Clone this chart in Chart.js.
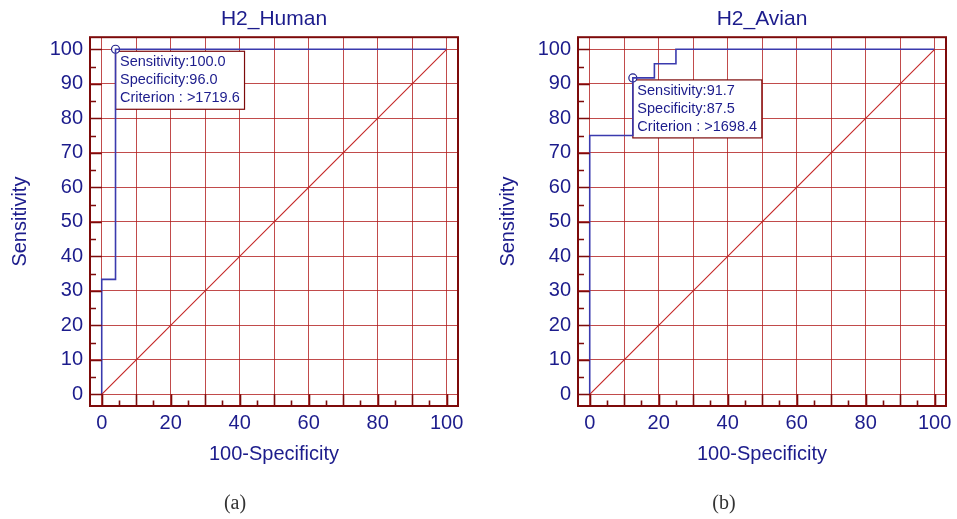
<!DOCTYPE html>
<html>
<head>
<meta charset="utf-8">
<script src="https://cdn.jsdelivr.net/npm/chart.js@4"></script>
<style>
  html, body { margin:0; padding:0; background:#fff; }
  body { width:957px; height:519px; position:relative; overflow:hidden; }
  .panel { position:absolute; top:0; width:469px; height:519px; }
  .cap { position:absolute; top:491px; width:60px; text-align:center; font-family:"Liberation Serif","DejaVu Serif",serif; font-size:20px; line-height:22px; color:#333; }
</style>
</head>
<body>
<div class="panel" style="left:0px"><canvas id="c1" width="469" height="519"></canvas></div>
<div class="panel" style="left:488px"><canvas id="c2" width="469" height="519"></canvas></div>
<div class="cap" style="left:205px">(a)</div>
<div class="cap" style="left:694px">(b)</div>
<script>
// ---- data ----
const titles = ['H2_Human', 'H2_Avian'];
const gridValues = [0, 10, 20, 30, 40, 50, 60, 70, 80, 90, 100];
const minorTickValues = [5, 15, 25, 35, 45, 55, 65, 75, 85, 95];
const xTickLabels = [0, 20, 40, 60, 80, 100];
const yTickLabels = [0, 10, 20, 30, 40, 50, 60, 70, 80, 90, 100];
const diagX = [0, 100];
const diagY = [0, 100];
const humanFpr = [0, 0, 4, 4, 100];
const humanSens = [0, 33.3, 33.3, 100, 100];
const avianFpr = [0, 0, 12.5, 12.5, 18.75, 18.75, 25, 25, 100];
const avianSens = [0, 75, 75, 91.7, 91.7, 95.8, 95.8, 100, 100];
const humanCutX = [4];
const humanCutY = [100];
const avianCutX = [12.5];
const avianCutY = [91.7];
const humanInfo = ['Sensitivity:100.0', 'Specificity:96.0', 'Criterion : >1719.6'];
const avianInfo = ['Sensitivity:91.7', 'Specificity:87.5', 'Criterion : >1698.4'];

// ---- style ----
const TEXT = '#1c1c8c';
const CURVE = '#3a3aae';
const FRAME = '#7d0a0a';
const GRID = 'rgba(178,30,30,0.8)';
const DIAG = '#c42626';
const FONT = '"Liberation Sans", Arial, sans-serif';

function pts(xs, ys) { return xs.map((x, i) => ({x: x, y: ys[i]})); }

function decorPlugin(info) {
  return {
    id: 'rocDecor',
    beforeDatasetsDraw(chart) {
      const ctx = chart.ctx;
      const p = chart.getDatasetMeta(2).data[0];
      const x0 = p.x, y0 = p.y + 2, w = 129, h = 58;
      ctx.save();
      ctx.fillStyle = '#fff';
      ctx.fillRect(x0, y0, w, h);
      ctx.strokeStyle = FRAME;
      ctx.lineWidth = 1.2;
      ctx.strokeRect(x0, y0, w, h);
      ctx.fillStyle = TEXT;
      ctx.font = '14.5px ' + FONT;
      ctx.textBaseline = 'middle';
      ctx.textAlign = 'left';
      info.forEach((t, i) => ctx.fillText(t, x0 + 4.5, y0 + 11 + i * 18));
      ctx.restore();
    },
    afterDatasetsDraw(chart) {
      const ctx = chart.ctx, a = chart.chartArea;
      const xs = chart.scales.x, ys = chart.scales.y;
      const x0 = xs.getPixelForValue(0), y0 = ys.getPixelForValue(0);
      ctx.save();
      ctx.strokeStyle = FRAME;
      ctx.lineWidth = 1.6;
      ctx.beginPath();
      gridValues.forEach(v => {
        const px = Math.round(xs.getPixelForValue(v)) + 0.5;
        ctx.moveTo(px, a.bottom); ctx.lineTo(px, y0);
        const py = Math.round(ys.getPixelForValue(v)) + 0.5;
        ctx.moveTo(a.left, py); ctx.lineTo(x0, py);
      });
      minorTickValues.forEach(v => {
        const px = Math.round(xs.getPixelForValue(v)) + 0.5;
        ctx.moveTo(px, a.bottom); ctx.lineTo(px, a.bottom - 5.5);
        const py = Math.round(ys.getPixelForValue(v)) + 0.5;
        ctx.moveTo(a.left, py); ctx.lineTo(a.left + 6, py);
      });
      ctx.stroke();
      ctx.lineWidth = 2;
      ctx.strokeRect(a.left, a.top, a.right - a.left, a.bottom - a.top);
      ctx.restore();
    }
  };
}

function makeChart(id, title, fpr, sens, cutX, cutY, info) {
  return new Chart(document.getElementById(id), {
    type: 'scatter',
    data: {
      datasets: [
        { data: pts(diagX, diagY), showLine: true, borderColor: DIAG, borderWidth: 1.1, pointRadius: 0, tension: 0 },
        { data: pts(fpr, sens), showLine: true, borderColor: CURVE, borderWidth: 1.6, pointRadius: 0, tension: 0 },
        { data: pts(cutX, cutY), showLine: false, pointRadius: 4, pointBackgroundColor: '#fff', pointBorderColor: '#22228a', pointBorderWidth: 1.2 }
      ]
    },
    plugins: [decorPlugin(info)],
    options: {
      responsive: false,
      animation: false,
      devicePixelRatio: 1,
      layout: { padding: { left: 0, right: 11, top: 0, bottom: 49 } },
      plugins: {
        legend: { display: false },
        tooltip: { enabled: false },
        title: { display: true, text: title, fullSize: false, color: TEXT, font: { family: FONT, size: 21, weight: 'normal' }, padding: { top: 7, bottom: 5 } }
      },
      scales: {
        x: {
          type: 'linear', min: -3.4, max: 103.3,
          afterBuildTicks: s => { s.ticks = gridValues.map(v => ({ value: v })); },
          afterFit: s => { s.height = 64; },
          grid: { color: GRID, lineWidth: 1, drawTicks: false },
          border: { display: false },
          ticks: { autoSkip: false, maxRotation: 0, padding: 5, color: TEXT, font: { family: FONT, size: 20 },
                   callback: v => xTickLabels.includes(v) ? String(v) : '' },
          title: { display: true, text: '100-Specificity', color: TEXT, font: { family: FONT, size: 20 }, padding: { top: 0, bottom: 4 } }
        },
        y: {
          type: 'linear', min: -3.4, max: 103.5,
          afterBuildTicks: s => { s.ticks = gridValues.map(v => ({ value: v })); },
          afterFit: s => { s.width = 90; },
          grid: { color: GRID, lineWidth: 1, drawTicks: false },
          border: { display: false },
          ticks: { autoSkip: false, padding: 7, color: TEXT, font: { family: FONT, size: 20 },
                   callback: v => yTickLabels.includes(v) ? String(v) : '' },
          title: { display: true, text: 'Sensitivity', color: TEXT, font: { family: FONT, size: 20 }, padding: { top: 8, bottom: 0 } }
        }
      }
    }
  });
}

makeChart('c1', titles[0], humanFpr, humanSens, humanCutX, humanCutY, humanInfo);
makeChart('c2', titles[1], avianFpr, avianSens, avianCutX, avianCutY, avianInfo);
</script>
</body>
</html>
